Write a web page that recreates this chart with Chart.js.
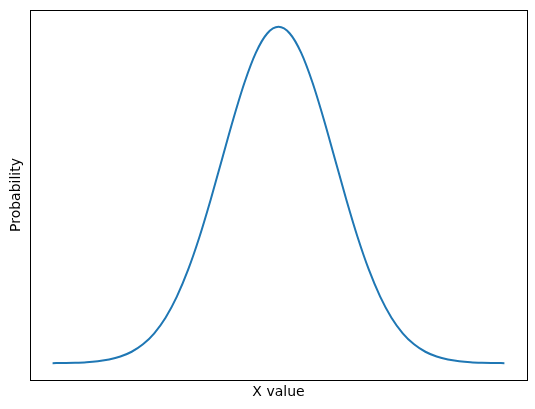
<!DOCTYPE html>
<html>
<head>
<meta charset="utf-8">
<script src="https://cdn.jsdelivr.net/npm/chart.js@4/dist/chart.umd.min.js"></script>
<style>
    html, body { margin: 0; padding: 0; background: #fff; }
    #wrap { width: 535px; height: 409px; }
</style>
</head>
<body>
<div id="wrap"><canvas id="curveChart" width="535" height="409"></canvas></div>
<script>
// values
const xValues = [-4.0, -3.8, -3.6, -3.4, -3.2, -3.0, -2.8, -2.6, -2.4, -2.2, -2.0,
    -1.8, -1.6, -1.4, -1.2, -1.0, -0.8, -0.6, -0.4, -0.2, 0.0,
    0.2, 0.4, 0.6, 0.8, 1.0, 1.2, 1.4, 1.6, 1.8, 2.0,
    2.2, 2.4, 2.6, 2.8, 3.0, 3.2, 3.4, 3.6, 3.8, 4.0];
const probValues = [0.0001, 0.0003, 0.0006, 0.0012, 0.0024, 0.0044, 0.0079, 0.0136, 0.0224, 0.0355, 0.0540,
    0.0790, 0.1109, 0.1497, 0.1942, 0.2420, 0.2897, 0.3332, 0.3683, 0.3910, 0.3989,
    0.3910, 0.3683, 0.3332, 0.2897, 0.2420, 0.1942, 0.1497, 0.1109, 0.0790, 0.0540,
    0.0355, 0.0224, 0.0136, 0.0079, 0.0044, 0.0024, 0.0012, 0.0006, 0.0003, 0.0001];
const xLabel = 'X value';
const yLabel = 'Probability';

// frame round the plot area (matplotlib style box)
const framePlugin = {
    id: 'frame',
    afterDraw(chart) {
        const { left, top, right, bottom } = chart.chartArea;
        const ctx = chart.ctx;
        ctx.save();
        ctx.strokeStyle = '#000';
        ctx.lineWidth = 1;
        ctx.strokeRect(Math.round(left) + 0.5, Math.round(top) + 0.5,
            Math.round(right - left), Math.round(bottom - top));
        ctx.restore();
    }
};

const points = xValues.map((x, i) => ({ x: x, y: probValues[i] }));
const labelFont = { family: 'DejaVu Sans', size: 14 };

new Chart(document.getElementById('curveChart').getContext('2d'), {
    type: 'line',
    data: {
        datasets: [{
            data: points,
            borderColor: '#1f77b4',
            borderWidth: 2,
            pointRadius: 0,
            cubicInterpolationMode: 'monotone',
            fill: false
        }]
    },
    options: {
        responsive: false,
        animation: false,
        layout: { padding: { top: 10, right: 8, left: 0, bottom: 0 } },
        plugins: { legend: { display: false }, tooltip: { enabled: false } },
        scales: {
            x: {
                type: 'linear',
                min: -4.4,
                max: 4.4,
                grid: { display: false, drawTicks: false },
                border: { display: false },
                ticks: { display: false },
                title: { display: true, text: xLabel, color: '#000', font: labelFont, padding: { top: 0, bottom: 8 } },
                afterFit: (scale) => { scale.height = 29; }
            },
            y: {
                min: -0.0199,
                max: 0.4189,
                grid: { display: false, drawTicks: false },
                border: { display: false },
                ticks: { display: false },
                title: { display: true, text: yLabel, color: '#000', font: labelFont, padding: { top: 8, bottom: 0 } },
                afterFit: (scale) => { scale.width = 30; }
            }
        }
    },
    plugins: [framePlugin]
});
</script>
</body>
</html>
